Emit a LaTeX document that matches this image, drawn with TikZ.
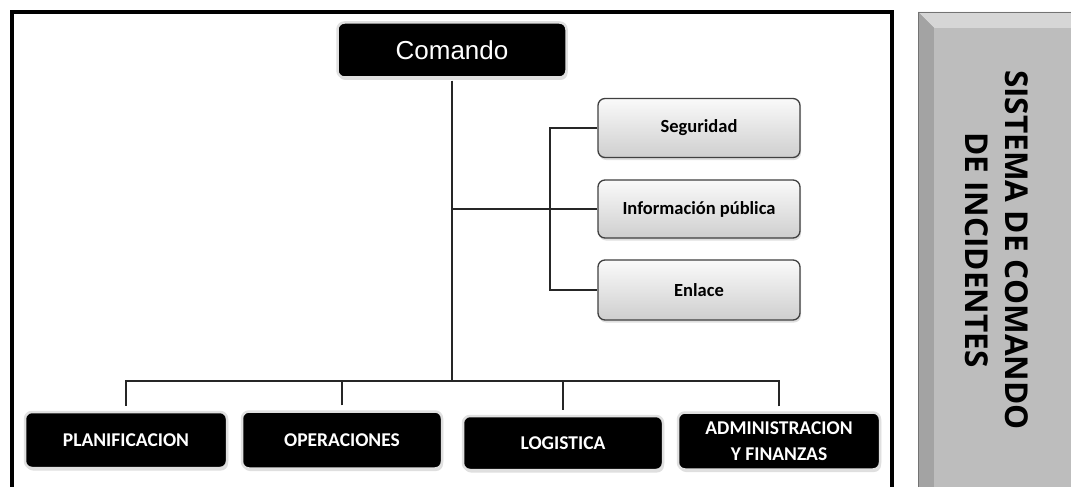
\documentclass[tikz,border=0pt]{standalone}
\usepackage{fontspec}
\usetikzlibrary{shadows}
\newfontfamily\arialf{Liberation Sans}
\newfontfamily\calf{Carlito}
\newfontfamily\opensf{Open Sans}
\definecolor{face}{HTML}{BDBDBD}
\definecolor{bevtop}{HTML}{D6D6D6}
\definecolor{bevleft}{HTML}{A3A3A3}
\tikzset{
  conn/.style={draw=black!85, line width=1.4pt},
  blackbox/.style={rectangle, rounded corners=7pt, fill=black, draw=black!12, line width=2.5pt,
    text=white, align=center, inner sep=2pt,
    drop shadow={opacity=0.25, shadow xshift=1pt, shadow yshift=-2.5pt}},
  graybox/.style={rectangle, rounded corners=7pt, top color=gray!4, bottom color=gray!38,
    draw=black!75, line width=1.3pt, text=black, align=center, inner sep=2pt,
    minimum width=202pt,
    drop shadow={opacity=0.25, shadow xshift=1pt, shadow yshift=-2.5pt},
    font=\calf\bfseries\fontsize{18.5}{22}\selectfont},
  lowlbl/.style={font=\calf\bfseries\fontsize{19.5}{26}\selectfont},
}
\begin{document}
\begin{tikzpicture}[x=1pt, y=-1pt]
\clip (0,0) rectangle (1071,487);
\fill[white] (0,0) rectangle (1071,487);
% frame
\draw[line width=3.2pt] (12,12) rectangle (892,520);
% right bevel panel
\fill[bevleft] (918,12) rectangle (1090,520);
\fill[bevtop] (918,12) -- (1090,12) -- (1090,28) -- (934,28) -- cycle;
\fill[bevleft] (918,12) -- (934,28) -- (934,520) -- (918,520) -- cycle;
\fill[face] (934,28) rectangle (1090,520);
\draw[black!55, line width=1.2pt] (918.6,520) -- (918.6,12.6) -- (1090,12.6);
\node[rotate=-90, align=center, font=\opensf\bfseries\fontsize{31.5}{40}\selectfont] (title) at (997,250)
  {SISTEMA DE COMANDO\\DE INCIDENTES};
% nodes
\node[blackbox, minimum width=229pt, minimum height=55pt, font=\arialf\fontsize{26}{30}\selectfont] (cmd) at (452,50) {Comando};
\node[graybox, minimum height=59pt] (seg) at (699,128) {Seguridad};
\node[graybox, minimum height=58pt] (info) at (699,209) {Información pública};
\node[graybox, minimum height=60pt] (enl) at (699,290) {Enlace};
\node[blackbox, lowlbl, minimum width=202pt, minimum height=56pt] (plan) at (126,440) {PLANIFICACION};
\node[blackbox, lowlbl, minimum width=200pt, minimum height=57pt] (oper) at (342,440) {OPERACIONES};
\node[blackbox, lowlbl, minimum width=200pt, minimum height=54pt] (logi) at (563,443) {LOGISTICA};
\node[blackbox, lowlbl, minimum width=202pt, minimum height=57pt] (admi) at (779,441) {ADMINISTRACION\\Y FINANZAS};
% connectors
\coordinate (bus) at (452,381);
\coordinate (jn) at (452,209);
\coordinate (sv) at (550,209);
\draw[conn, shorten <=2pt] (cmd.south) -- (bus);
\draw[conn, shorten <=5pt] (plan.north) |- (bus);
\draw[conn, shorten <=5pt] (oper.north) |- (bus);
\draw[conn, shorten <=5pt] (logi.north) |- (bus);
\draw[conn, shorten <=5pt] (admi.north) |- (bus);
\draw[conn] (jn) -- (info.west);
\draw[conn] (seg.west) -| (sv) |- (enl.west);
\end{tikzpicture}
\end{document}
